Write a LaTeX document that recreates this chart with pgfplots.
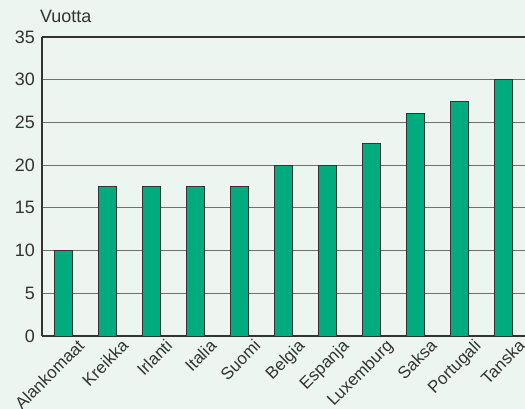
\documentclass[border=0pt]{standalone}
\usepackage{pgfplots}
\usepackage{xcolor}
\usepackage{fontspec}
\setmainfont{Liberation Sans}
\pgfplotsset{compat=1.18}
\definecolor{bgcol}{HTML}{ECF5F0}
\definecolor{barfill}{HTML}{00AB7D}
\definecolor{txt}{HTML}{333333}
\definecolor{gridcol}{HTML}{707070}
\pagecolor{bgcol}

\begin{document}
\begin{tikzpicture}[font=\fontsize{18}{22}\selectfont]
\begin{axis}[
    name=ax,
    scale only axis,
    width=483bp, height=299bp,
    xmin=-0.48, xmax=10.48,
    ymin=0, ymax=35,
    axis x line=bottom, axis y line=left,
    axis line style={txt, line width=1.1pt, -},
    ytick={0,5,...,30},
    extra y ticks={35},
    extra y tick style={grid style={txt, line width=1.1pt}},
    ymajorgrids,
    grid style={gridcol, line width=1.1pt},
    major tick length=0pt,
    xtick=data,
    xticklabels={Alankomaat,Kreikka,Irlanti,Italia,Suomi,Belgia,Espanja,Luxemburg,Saksa,Portugali,Tanska},
    ticklabel style={text=txt},
    yticklabel style={font=\fontsize{18}{22}\selectfont, xshift=-7bp, inner sep=0pt},
    x tick label style={font=\fontsize{17}{20}\selectfont, rotate=45, anchor=north east, xshift=9bp, yshift=-10bp, inner sep=1pt},
    /pgf/number format/assume math mode=true,
    clip=false,
]
\addplot[ybar, bar width=18bp, fill=barfill, draw=txt, line width=0.8pt] coordinates {
    (0,10) (1,17.5) (2,17.5) (3,17.5) (4,17.5) (5,20)
    (6,20) (7,22.5) (8,26) (9,27.5) (10,30)
};
\end{axis}
\node[anchor=base west, text=txt, inner sep=0pt] at ([xshift=-2bp, yshift=14bp]ax.north west) {Vuotta};
\pgfresetboundingbox
\path ([xshift=-42bp, yshift=-73bp]ax.south west) rectangle ([yshift=37bp]ax.north east);
\end{tikzpicture}
\end{document}
